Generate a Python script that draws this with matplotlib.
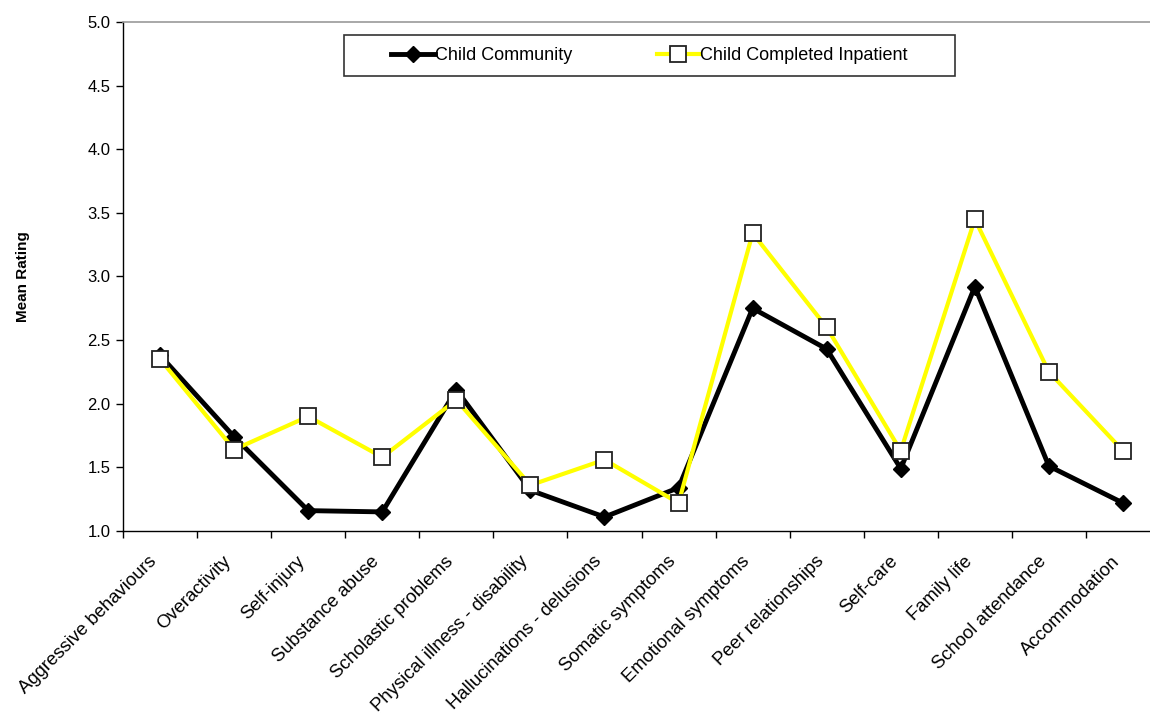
import numpy as np
import matplotlib.pyplot as plt
from matplotlib.patches import Rectangle
from matplotlib.transforms import ScaledTranslation

categories = [
    'Aggressive behaviours', 'Overactivity', 'Self-injury', 'Substance abuse',
    'Scholastic problems', 'Physical illness - disability',
    'Hallucinations - delusions', 'Somatic symptoms', 'Emotional symptoms',
    'Peer relationships', 'Self-care', 'Family life', 'School attendance',
    'Accommodation',
]
child_community = [2.38, 1.74, 1.16, 1.15, 2.11, 1.32, 1.11, 1.34, 2.75,
                   2.43, 1.49, 2.92, 1.51, 1.22]
child_completed_inpatient = [2.35, 1.64, 1.90, 1.58, 2.03, 1.36, 1.56, 1.22,
                             3.34, 2.60, 1.63, 3.45, 2.25, 1.63]
y_ticks = [1.0, 1.5, 2.0, 2.5, 3.0, 3.5, 4.0, 4.5, 5.0]

plt.rcParams['font.family'] = ['Liberation Sans', 'DejaVu Sans']

fig = plt.figure(figsize=(11.5, 7.16), dpi=100)
ax = fig.add_axes([0.107, 0.2584, 0.9017, 0.7109])

x = np.arange(len(categories))
ax.plot(x, child_completed_inpatient, color='#FFFF00', lw=3.0, marker='s',
        ms=11, mfc='white', mec='#222222', mew=1.3,
        label='Child Completed Inpatient', zorder=3)
ax.plot(x, child_community, color='black', lw=3.5, marker='D', ms=8.5,
        mfc='black', mec='black', label='Child Community', zorder=2)

ax.set_xlim(-0.5, len(categories) - 0.5)
ax.set_ylim(1.0, 5.0)
ax.set_yticks(y_ticks)
ax.set_yticklabels([f'{v:.1f}' for v in y_ticks], fontsize=12)
ax.tick_params(axis='y', direction='out', length=5, width=1, pad=4)

# category labels at the centres, tick marks between categories
ax.set_xticks(x)
ax.set_xticklabels(categories, fontsize=13.3, rotation=45, ha='right',
                   va='center', rotation_mode='anchor')
ax.tick_params(axis='x', which='major', length=0, pad=20)
shift = ScaledTranslation(-4 / 72, 0, fig.dpi_scale_trans)
for lbl in ax.get_xticklabels():
    lbl.set_transform(lbl.get_transform() + shift)
ax.set_xticks(np.arange(-0.5, len(categories)), minor=True)
ax.tick_params(axis='x', which='minor', direction='out', length=5, width=1)

ax.spines['right'].set_visible(False)
ax.spines['top'].set_color('#9a9a9a')
ax.spines['top'].set_linewidth(1.2)
ax.spines['left'].set_linewidth(1.0)
ax.spines['bottom'].set_linewidth(1.0)

ax.set_ylabel('Mean Rating', fontsize=11, fontweight='bold')
ax.yaxis.set_label_coords(-0.0897, 0.5)

handles, labels = ax.get_legend_handles_labels()
ax.legend(handles[::-1], labels[::-1], loc='center', ncol=2,
          bbox_to_anchor=(0.5077, 0.934), frameon=False, fontsize=13,
          handlelength=2.4, handletextpad=0.0, columnspacing=4.7,
          borderaxespad=0)
ax.add_patch(Rectangle((0.213, 0.894), 0.589, 0.0805, transform=ax.transAxes,
                       fill=False, edgecolor='#333333', lw=1.2, zorder=5,
                       clip_on=False))

fig.savefig('out.png', dpi=100)
